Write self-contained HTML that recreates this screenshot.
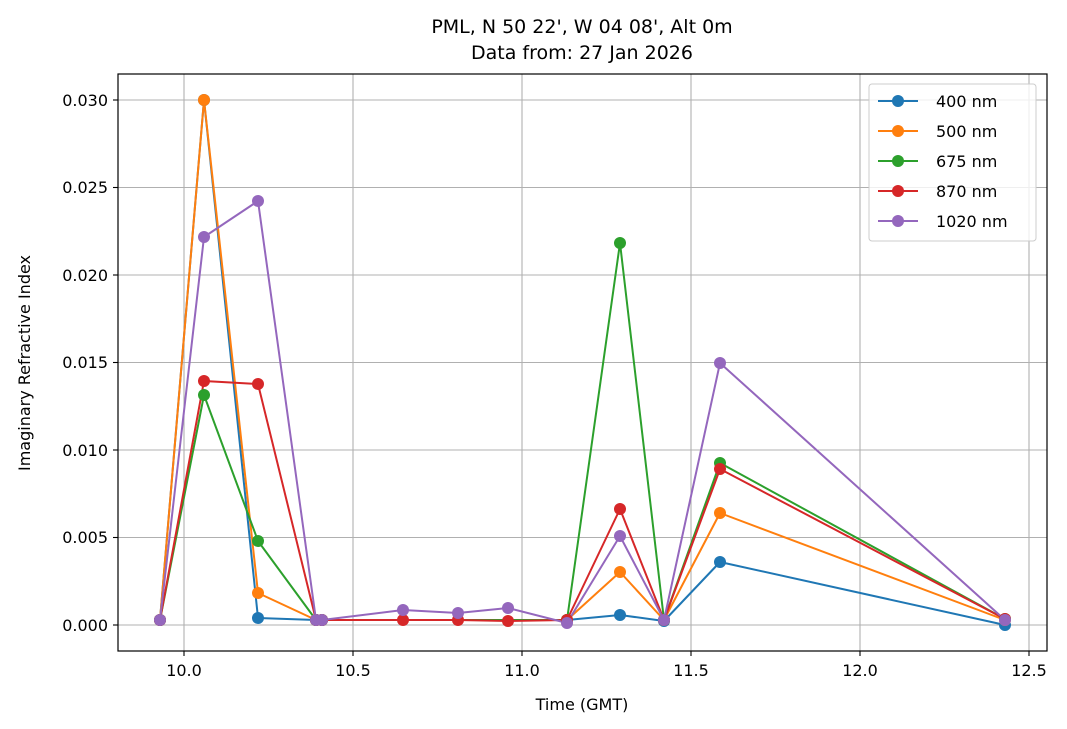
<!DOCTYPE html>
<html><head><meta charset="utf-8"><style>body{margin:0;background:#fff}svg{display:block;font-family:"DejaVu Sans","Liberation Sans",sans-serif}</style></head><body>
<svg width="1067" height="729" viewBox="0 0 1067 729" xmlns="http://www.w3.org/2000/svg">
<rect width="1067" height="729" fill="#fff"/>
<g stroke="#b0b0b0" stroke-width="1.1">
<line x1="184" y1="74" x2="184" y2="651"/><line x1="353" y1="74" x2="353" y2="651"/><line x1="522" y1="74" x2="522" y2="651"/><line x1="691" y1="74" x2="691" y2="651"/><line x1="860" y1="74" x2="860" y2="651"/><line x1="1029" y1="74" x2="1029" y2="651"/>
<line x1="118" y1="625" x2="1047" y2="625"/><line x1="118" y1="537.5" x2="1047" y2="537.5"/><line x1="118" y1="450" x2="1047" y2="450"/><line x1="118" y1="362.5" x2="1047" y2="362.5"/><line x1="118" y1="275" x2="1047" y2="275"/><line x1="118" y1="187.5" x2="1047" y2="187.5"/><line x1="118" y1="100" x2="1047" y2="100"/>
</g>
<g fill="none" stroke-width="2" stroke-linejoin="round">
<polyline stroke="#1f77b4" points="160,620 204,100 258,618 316,620 322,620 403,620 458,620 508,620 567,620 620,615 664,621 720,562 1005,625"/>
<polyline stroke="#ff7f0e" points="160,620 204,100 258,593 316,620 322,620 403,620 458,620 508,620 567,620 620,572 664,620 720,513 1005,620"/>
<polyline stroke="#2ca02c" points="160,620 204,395 258,541 316,620 322,620 403,620 458,620 508,620 567,620 620,243 664,620 720,463 1005,619"/>
<polyline stroke="#d62728" points="160,620 204,381 258,384 316,620 322,620 403,620 458,620 508,621 567,620 620,509 664,620 720,469 1005,619"/>
<polyline stroke="#9467bd" points="160,620 204,237 258,201 316,620 322,620 403,610 458,613 508,608 567,623 620,536 664,620 720,363 1005,620"/>
</g>
<g fill="#1f77b4"><circle cx="160" cy="620" r="6"/><circle cx="204" cy="100" r="6"/><circle cx="258" cy="618" r="6"/><circle cx="316" cy="620" r="6"/><circle cx="322" cy="620" r="6"/><circle cx="567" cy="620" r="6"/><circle cx="620" cy="615" r="6"/><circle cx="664" cy="621" r="6"/><circle cx="720" cy="562" r="6"/><circle cx="1005" cy="625" r="6"/></g>
<g fill="#ff7f0e"><circle cx="160" cy="620" r="6"/><circle cx="204" cy="100" r="6"/><circle cx="258" cy="593" r="6"/><circle cx="316" cy="620" r="6"/><circle cx="322" cy="620" r="6"/><circle cx="567" cy="620" r="6"/><circle cx="620" cy="572" r="6"/><circle cx="664" cy="620" r="6"/><circle cx="720" cy="513" r="6"/><circle cx="1005" cy="620" r="6"/></g>
<g fill="#2ca02c"><circle cx="160" cy="620" r="6"/><circle cx="204" cy="395" r="6"/><circle cx="258" cy="541" r="6"/><circle cx="316" cy="620" r="6"/><circle cx="322" cy="620" r="6"/><circle cx="567" cy="620" r="6"/><circle cx="620" cy="243" r="6"/><circle cx="664" cy="620" r="6"/><circle cx="720" cy="463" r="6"/><circle cx="1005" cy="619" r="6"/></g>
<g fill="#d62728"><circle cx="160" cy="620" r="6"/><circle cx="204" cy="381" r="6"/><circle cx="258" cy="384" r="6"/><circle cx="316" cy="620" r="6"/><circle cx="322" cy="620" r="6"/><circle cx="403" cy="620" r="6"/><circle cx="458" cy="620" r="6"/><circle cx="508" cy="621" r="6"/><circle cx="567" cy="620" r="6"/><circle cx="620" cy="509" r="6"/><circle cx="664" cy="620" r="6"/><circle cx="720" cy="469" r="6"/><circle cx="1005" cy="619" r="6"/></g>
<g fill="#9467bd"><circle cx="160" cy="620" r="6"/><circle cx="204" cy="237" r="6"/><circle cx="258" cy="201" r="6"/><circle cx="316" cy="620" r="6"/><circle cx="322" cy="620" r="6"/><circle cx="403" cy="610" r="6"/><circle cx="458" cy="613" r="6"/><circle cx="508" cy="608" r="6"/><circle cx="567" cy="623" r="6"/><circle cx="620" cy="536" r="6"/><circle cx="664" cy="620" r="6"/><circle cx="720" cy="363" r="6"/><circle cx="1005" cy="620" r="6"/></g>
<rect x="118" y="74" width="929" height="577" fill="none" stroke="#000" stroke-width="1.2"/>
<g stroke="#000" stroke-width="1.1">
<line x1="184" y1="651" x2="184" y2="656"/><line x1="353" y1="651" x2="353" y2="656"/><line x1="522" y1="651" x2="522" y2="656"/><line x1="691" y1="651" x2="691" y2="656"/><line x1="860" y1="651" x2="860" y2="656"/><line x1="1029" y1="651" x2="1029" y2="656"/>
<line x1="113" y1="625" x2="118" y2="625"/><line x1="113" y1="537.5" x2="118" y2="537.5"/><line x1="113" y1="450" x2="118" y2="450"/><line x1="113" y1="362.5" x2="118" y2="362.5"/><line x1="113" y1="275" x2="118" y2="275"/><line x1="113" y1="187.5" x2="118" y2="187.5"/><line x1="113" y1="100" x2="118" y2="100"/>
</g>
<g font-size="16" text-anchor="middle" fill="#000">
<text x="184" y="676">10.0</text><text x="353" y="676">10.5</text><text x="522" y="676">11.0</text><text x="691" y="676">11.5</text><text x="860" y="676">12.0</text><text x="1029" y="676">12.5</text>
<text x="582" y="710">Time (GMT)</text>
<text x="582" y="33" font-size="19">PML, N 50 22', W 04 08', Alt 0m</text>
<text x="582" y="59" font-size="19">Data from: 27 Jan 2026</text>
<text transform="translate(30,363) rotate(-90)">Imaginary Refractive Index</text>
</g>
<g font-size="16" text-anchor="end" fill="#000">
<text x="108" y="631">0.000</text><text x="108" y="543">0.005</text><text x="108" y="456">0.010</text><text x="108" y="368">0.015</text><text x="108" y="281">0.020</text><text x="108" y="193">0.025</text><text x="108" y="106">0.030</text>
</g>
<rect x="869" y="84" width="167" height="157" rx="3" fill="#fff" fill-opacity="0.8" stroke="#ccc"/>
<g stroke-width="2">
<line x1="878" y1="101" x2="918" y2="101" stroke="#1f77b4"/><circle cx="898" cy="101" r="6" fill="#1f77b4"/>
<line x1="878" y1="131" x2="918" y2="131" stroke="#ff7f0e"/><circle cx="898" cy="131" r="6" fill="#ff7f0e"/>
<line x1="878" y1="161" x2="918" y2="161" stroke="#2ca02c"/><circle cx="898" cy="161" r="6" fill="#2ca02c"/>
<line x1="878" y1="191" x2="918" y2="191" stroke="#d62728"/><circle cx="898" cy="191" r="6" fill="#d62728"/>
<line x1="878" y1="221" x2="918" y2="221" stroke="#9467bd"/><circle cx="898" cy="221" r="6" fill="#9467bd"/>
</g>
<g font-size="16" fill="#000">
<text x="936" y="107">400 nm</text><text x="936" y="137">500 nm</text><text x="936" y="167">675 nm</text><text x="936" y="197">870 nm</text><text x="936" y="227">1020 nm</text>
</g>
</svg>
</body></html>
